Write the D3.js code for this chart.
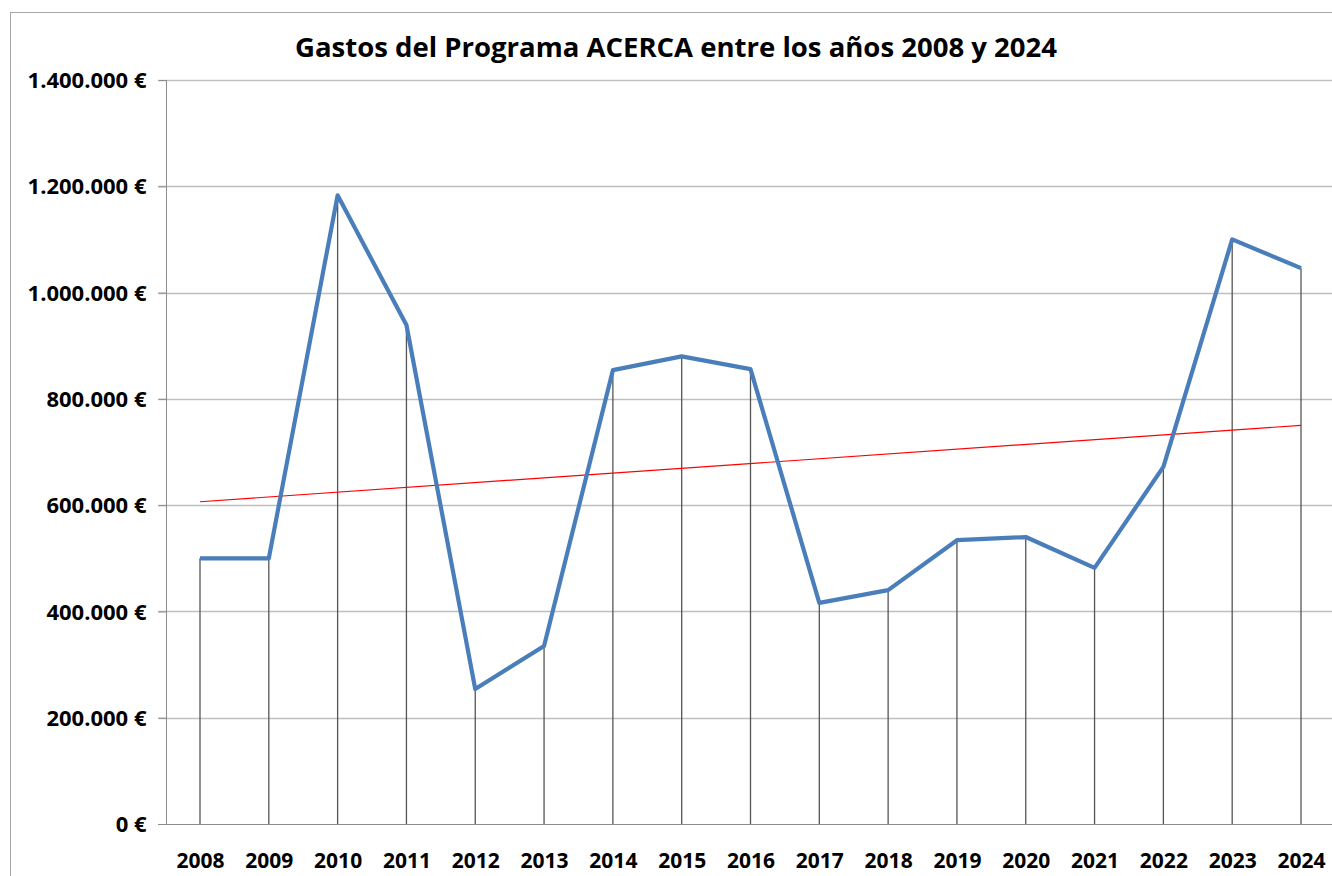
<!DOCTYPE html>
<html><head><meta charset="utf-8">
<script src="https://cdn.jsdelivr.net/npm/d3@7"></script>
<style>body{margin:0;background:#fff;overflow:hidden}svg{display:block}</style>
</head><body>
<script>
const title = "Gastos del Programa ACERCA entre los años 2008 y 2024";
const years = ["2008","2009","2010","2011","2012","2013","2014","2015","2016","2017","2018","2019","2020","2021","2022","2023","2024"];
const gastos = [500000,500000,1183000,939000,254000,335000,854000,880000,856000,416000,440000,534000,540000,482000,672000,1100000,1046000];
const yTicks = [0,200000,400000,600000,800000,1000000,1200000,1400000];

(function(){
const W = 1332, H = 876;
const svg = d3.select("body").append("svg").attr("width", W).attr("height", H);
const font = "'Open Sans', 'Liberation Sans', sans-serif";

// outer chart border
svg.append("rect").attr("x",10.5).attr("y",12.5).attr("width",1500).attr("height",1000)
  .attr("fill","none").attr("stroke","#a6a6a6").attr("stroke-width",1);

const pLeft = 166, pTop = 80, pBottom = 824;
const x = d3.scalePoint().domain(years).range([200, 1301]);
const y = d3.scaleLinear().domain([0,1400000]).range([pBottom, pTop]);

const fmt = v => v === 0 ? "0 €" : d3.format(",")(v).replace(/,/g,".") + " €";

// gridlines
svg.append("g").selectAll("line").data(yTicks.filter(d=>d>0)).join("line")
  .attr("x1", 158).attr("x2", W).attr("y1", d=>Math.round(y(d))+0.5).attr("y2", d=>Math.round(y(d))+0.5)
  .attr("stroke","#bfbfbf").attr("stroke-width",1.5);

// y axis
const yAxis = d3.axisLeft(y).tickValues(yTicks).tickFormat(fmt).tickSize(8).tickPadding(12);
const ga = svg.append("g").attr("transform",`translate(${pLeft+0.5},0)`).call(yAxis);
ga.select(".domain").attr("stroke","#8c8c8c").attr("d", `M0,${pTop}V${pBottom}`);
ga.selectAll(".tick line").attr("stroke","#8c8c8c");
ga.selectAll(".tick text").attr("font-family",font).attr("font-weight","bold")
  .attr("font-size",22).attr("fill","#000").attr("dy","0.35em");

// x baseline
svg.append("line").attr("x1",158).attr("x2",W).attr("y1",pBottom+0.5).attr("y2",pBottom+0.5)
  .attr("stroke","#8c8c8c").attr("stroke-width",1);

// x axis labels
const xAxis = d3.axisBottom(x).tickSize(0).tickPadding(29);
const gx = svg.append("g").attr("transform",`translate(0,${pBottom})`).call(xAxis);
gx.select(".domain").remove();
gx.selectAll(".tick text").attr("font-family",font).attr("font-weight","bold")
  .attr("font-size",21).attr("fill","#000");

// drop lines
svg.append("g").selectAll("line").data(years).join("line")
  .attr("x1", d=>x(d)).attr("x2", d=>x(d))
  .attr("y1", (d,i)=>y(gastos[i])).attr("y2", pBottom)
  .attr("stroke","#555").attr("stroke-width",1.3);

// trend line (least squares)
const n = years.length, idx = d3.range(n);
const mx = d3.mean(idx), my = d3.mean(gastos);
const slope = d3.sum(idx, i=>(i-mx)*(gastos[i]-my)) / d3.sum(idx, i=>(i-mx)*(i-mx));
const icpt = my - slope*mx;
svg.append("line")
  .attr("x1", x(years[0])).attr("y1", y(icpt))
  .attr("x2", x(years[n-1])).attr("y2", y(icpt + slope*(n-1)))
  .attr("stroke","#ff0000").attr("stroke-width",1.2);

// main line
const line = d3.line().x((d,i)=>x(years[i])).y(d=>y(d));
svg.append("path").datum(gastos).attr("d", line)
  .attr("fill","none").attr("stroke","#4a7ebb").attr("stroke-width",4.2)
  .attr("stroke-linejoin","round");

// title
svg.append("text").attr("x", 676).attr("y", 57).attr("text-anchor","middle")
  .attr("font-family",font).attr("font-weight","bold").attr("font-size",26).attr("fill","#000")
  .attr("textLength", 762).attr("lengthAdjust","spacingAndGlyphs")
  .text(title);
})();
</script>
</body></html>
